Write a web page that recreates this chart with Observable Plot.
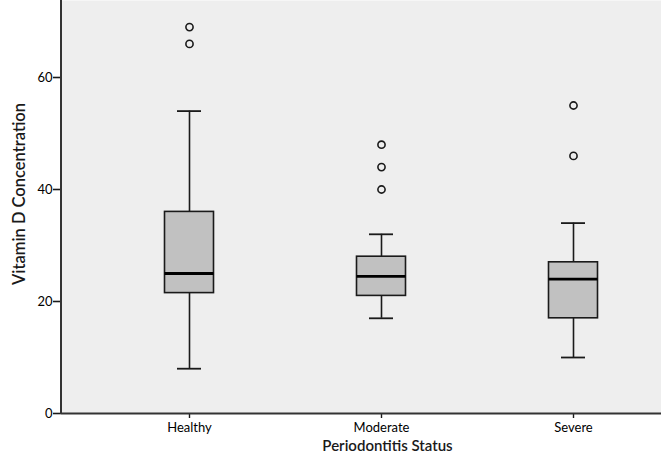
<!DOCTYPE html>
<html>
<head>
<meta charset="utf-8">
<script src="https://cdn.jsdelivr.net/npm/d3@7"></script>
<script src="https://cdn.jsdelivr.net/npm/@observablehq/plot@0.6"></script>
<style>
  html, body { margin: 0; padding: 0; background: #ffffff; }
  #chart svg { display: block; }
</style>
</head>
<body>
<div id="chart"></div>
<script>
// Data
const categories   = ["Healthy", "Moderate", "Severe"];
const whiskerLow   = [8, 17, 10];
const quartile1    = [21.5, 21, 17];
const medians      = [25, 24.5, 24];
const quartile3    = [36, 28, 27];
const whiskerHigh  = [54, 32, 34];
const outlierGroup = ["Healthy", "Healthy", "Moderate", "Moderate", "Moderate", "Severe", "Severe"];
const outlierValue = [69, 66, 48, 44, 40, 55, 46];
const yTicks       = [0, 20, 40, 60];
const xTitle = "Periodontitis Status";
const yTitle = "Vitamin D Concentration";

const rows = categories.map((c, i) => ({
  cat: c, lo: whiskerLow[i], q1: quartile1[i], med: medians[i], q3: quartile3[i], hi: whiskerHigh[i]
}));
const outliers = outlierGroup.map((c, i) => ({cat: c, v: outlierValue[i]}));

const boxInset = 71.5;
const capInset = 84;
const ink = "#1a1a1a";

// left axis line drawn from the plot's own dimensions
function leftAxisLine(index, scales, values, dim) {
  return d3.create("svg:line")
    .attr("x1", dim.marginLeft).attr("x2", dim.marginLeft)
    .attr("y1", dim.marginTop).attr("y2", dim.height - dim.marginBottom + 1)
    .attr("stroke", "#333333").attr("stroke-width", 2)
    .node();
}

const chart = Plot.plot({
  width: 661,
  height: 458,
  marginLeft: 61,
  marginRight: 0,
  marginTop: 0,
  marginBottom: 45,
  style: {fontFamily: "Lato, sans-serif", fontSize: "13px", color: ink, background: "#ffffff"},
  x: {type: "band", domain: categories, range: [93, 669], padding: 0},
  y: {domain: [0, 73.75]},
  marks: [
    Plot.frame({fill: "#eeeeee", stroke: "none"}),
    Plot.ruleX(rows, {x: "cat", y1: "lo", y2: "q1", stroke: ink, strokeWidth: 1.6}),
    Plot.ruleX(rows, {x: "cat", y1: "q3", y2: "hi", stroke: ink, strokeWidth: 1.6}),
    Plot.tickY(rows, {x: "cat", y: "lo", inset: capInset, stroke: ink, strokeWidth: 1.8}),
    Plot.tickY(rows, {x: "cat", y: "hi", inset: capInset, stroke: ink, strokeWidth: 1.8}),
    Plot.barY(rows, {x: "cat", y1: "q1", y2: "q3", insetLeft: boxInset, insetRight: boxInset, fill: "#c1c1c1", stroke: ink, strokeWidth: 1.6}),
    Plot.tickY(rows, {x: "cat", y: "med", inset: boxInset, stroke: "#000000", strokeWidth: 2.8}),
    Plot.dot(outliers, {x: "cat", y: "v", r: 3.6, stroke: ink, strokeWidth: 1.6, fill: "none"}),
    Plot.axisY({ticks: yTicks, tickSize: 8, tickPadding: 1, tickFormat: d => d, label: null, fontSize: 13, fill: "#000", stroke: ink, strokeWidth: 1.6}),
    Plot.axisX({tickSize: 5, tickPadding: 4, label: null, fontSize: 13, fill: "#000", stroke: ink, strokeWidth: 1.4}),
    Plot.ruleY([0], {stroke: "#333333", strokeWidth: 2}),
    leftAxisLine,
    Plot.text([xTitle], {frameAnchor: "bottom", dx: 26, dy: 37, fontSize: 15, fontWeight: 600, fill: ink}),
    Plot.text([yTitle], {frameAnchor: "left", textAnchor: "middle", rotate: -90, dx: -42, dy: -13, fontSize: 16.5, fontWeight: 600, fill: ink})
  ]
});
document.getElementById("chart").appendChild(chart);
</script>
</body>
</html>
